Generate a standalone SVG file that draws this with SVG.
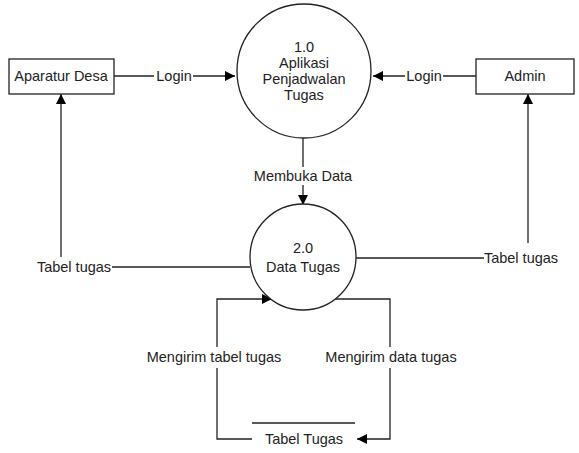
<svg xmlns="http://www.w3.org/2000/svg" width="579" height="453" viewBox="0 0 579 453">
<defs>
<marker id="ah" viewBox="0 0 10 10" refX="10" refY="5" markerWidth="10" markerHeight="10" markerUnits="userSpaceOnUse" orient="auto">
<path d="M0,0 L10,5 L0,10 Z" fill="#000"/>
</marker>
</defs>
<style>
text{font-family:"Liberation Sans",Arial,sans-serif;font-size:14.5px;fill:#222;}
.c{text-anchor:middle;}
.shape{fill:#fff;stroke:#222;stroke-width:1.3;}
.ln{fill:none;stroke:#222;stroke-width:1.3;}
</style>
<rect width="579" height="453" fill="#fff"/>
<g id="connectors">
<path class="ln" d="M114,76 H154 M193,76 H235" marker-end="url(#ah)"/>
<path class="ln" d="M476,76 H443 M405,76 H373" marker-end="url(#ah)"/>
<path class="ln" d="M303,138 V167 M303,185 V205" marker-end="url(#ah)"/>
<path class="ln" d="M250,267 H112 M61,257 V94" marker-end="url(#ah)"/>
<path class="ln" d="M356,258 H484 M528,243 V94" marker-end="url(#ah)"/>
<path class="ln" d="M252,439 H217 V368 M217,347 V299 H272" marker-end="url(#ah)"/>
<path class="ln" d="M335,299 H390 V347 M390,368 V439 H357" marker-end="url(#ah)"/>
<line class="ln" x1="252" y1="423" x2="355" y2="423"/>
<text x="174" y="81" class="c">Login</text>
<text x="424" y="81" class="c">Login</text>
<text x="303" y="181" class="c">Membuka Data</text>
<text x="74" y="272" class="c">Tabel tugas</text>
<text x="521" y="263" class="c">Tabel tugas</text>
<text x="214" y="362" class="c">Mengirim tabel tugas</text>
<text x="391" y="362" class="c">Mengirim data tugas</text>
<text x="304" y="444" class="c">Tabel Tugas</text>
</g>
<g id="aparatur">
<rect class="shape" x="9" y="59" width="105" height="35"/>
<text x="61" y="81" class="c">Aparatur Desa</text>
</g>
<g id="admin">
<rect class="shape" x="476" y="59" width="98" height="35"/>
<text x="525" y="81" class="c">Admin</text>
</g>
<g id="p1">
<circle class="shape" cx="304" cy="71" r="67"/>
<text x="304" y="52" class="c">1.0</text>
<text x="304" y="68" class="c">Aplikasi</text>
<text x="304" y="84" class="c">Penjadwalan</text>
<text x="304" y="100" class="c">Tugas</text>
</g>
<g id="p2">
<circle class="shape" cx="303" cy="257" r="53"/>
<text x="303" y="253" class="c">2.0</text>
<text x="303" y="272" class="c">Data Tugas</text>
</g>
</svg>
